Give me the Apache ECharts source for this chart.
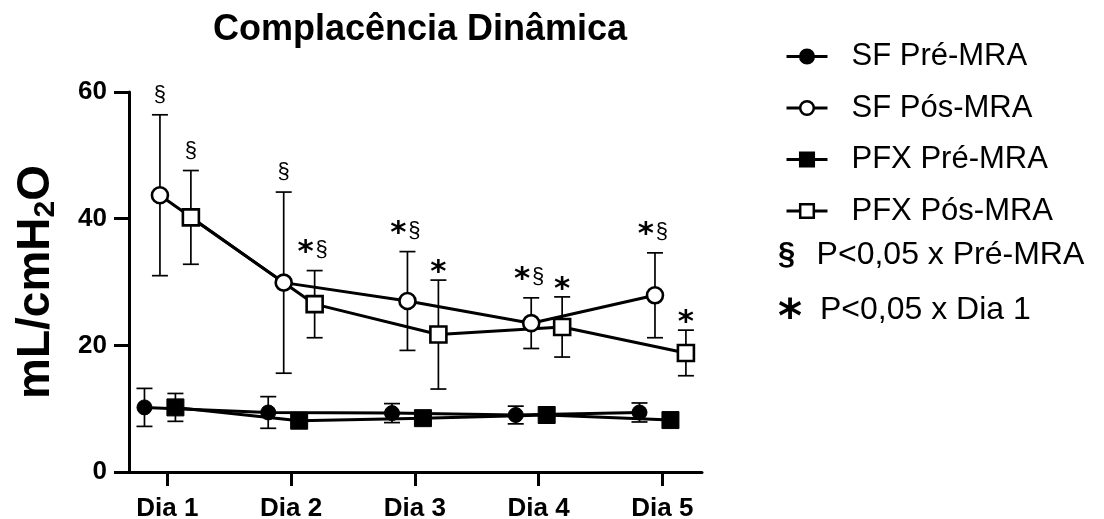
<!DOCTYPE html>
<html>
<head>
<meta charset="utf-8">
<script src="https://cdn.jsdelivr.net/npm/echarts@6/dist/echarts.min.js"></script>
<style>html,body{margin:0;padding:0;background:#fff;}#c{width:1104px;height:519px;}</style>
</head>
<body>
<div id="c"></div>
<script>
// ---- data ----
const categories = ['Dia 1', 'Dia 2', 'Dia 3', 'Dia 4', 'Dia 5'];
const yTicks = [0, 20, 40, 60];
const seriesNames = ['SF Pré-MRA', 'SF Pós-MRA', 'PFX Pré-MRA', 'PFX Pós-MRA'];
const sfPre = [10.2, 9.4, 9.3, 9.0, 9.4];
const sfPreErr = [3.0, 2.5, 1.5, 1.4, 1.5];
const sfPos = [43.7, 29.9, 27.0, 23.5, 27.9];
const sfPosErr = [12.7, 14.3, 7.8, 4.0, 6.7];
const pfxPre = [10.2, 8.1, 8.5, 9.0, 8.2];
const pfxPreErr = [2.2, 0.8, 0.8, 0.8, 0.8];
const pfxPos = [40.2, 26.5, 21.7, 22.9, 18.8];
const pfxPosErr = [7.4, 5.3, 8.6, 4.75, 3.6];
const sfPosSig = ['§', '§', '*§', '*§', '*§'];
const pfxPosSig = ['§', '*§', '*', '*', '*'];
const footnotes = [['§', 'P<0,05 x Pré-MRA'], ['*', 'P<0,05 x Dia 1']];

// ---- styling (positions of groups within a day) ----
const offsets = { sfPre: -0.185, sfPos: -0.06, pfxPre: 0.065, pfxPos: 0.19 };
const FONT = 'Liberation Sans, Arial, sans-serif';

function pts(vals, off) { return vals.map((v, i) => [i + 1 + off, v]); }
function errData(vals, errs, off) { return vals.map((v, i) => [i + 1 + off, v - errs[i], v + errs[i]]); }

function errSeries(vals, errs, off, sig) {
  return {
    type: 'custom', z: 1, silent: true,
    data: errData(vals, errs, off),
    renderItem: function (params, api) {
      const x = api.value(0), lo = api.value(1), hi = api.value(2);
      const pt = api.coord([x, hi]);
      const pb = api.coord([x, lo]);
      const cap = 8;
      const ls = { stroke: '#000', lineWidth: 1.7 };
      const children = [
        { type: 'line', shape: { x1: pt[0], y1: pt[1], x2: pb[0], y2: pb[1] }, style: ls },
        { type: 'line', shape: { x1: pt[0] - cap, y1: pt[1], x2: pt[0] + cap, y2: pt[1] }, style: ls },
        { type: 'line', shape: { x1: pb[0] - cap, y1: pb[1], x2: pb[0] + cap, y2: pb[1] }, style: ls }
      ];
      const s = sig ? sig[params.dataIndex] : '';
      const star = s.indexOf('*') >= 0, sec = s.indexOf('§') >= 0;
      const starStyle = (cx, cy) => ({ type: 'text', x: cx, y: cy + 6, style: { text: '*', font: 'bold 31px DejaVu Sans', fill: '#000', align: 'center', verticalAlign: 'middle' } });
      const secStyle = (cx, cy) => ({ type: 'text', x: cx, y: cy - 2, style: { text: '§', font: '22px ' + FONT, fill: '#000', align: 'center', verticalAlign: 'middle' } });
      if (star && sec) {
        children.push(starStyle(pt[0] - 9, pt[1] - 24));
        children.push(secStyle(pt[0] + 7, pt[1] - 19));
      } else if (star) {
        children.push(starStyle(pt[0], pt[1] - 13));
      } else if (sec) {
        children.push(secStyle(pt[0], pt[1] - 18));
      }
      return { type: 'group', children: children };
    }
  };
}

function lineSeries(name, vals, off, symbol, size, filled) {
  return {
    name: name, type: 'line', z: 3,
    data: pts(vals, off),
    symbol: symbol, symbolSize: size,
    showAllSymbol: true,
    lineStyle: { color: '#000', width: 3 },
    itemStyle: filled ? { color: '#000', borderColor: '#000', borderWidth: 1 } : { color: '#fff', borderColor: '#000', borderWidth: 2.6 },
    emphasis: { disabled: true }
  };
}

const chart = echarts.init(document.getElementById('c'), null, { renderer: 'canvas' });
chart.setOption({
  animation: false,
  backgroundColor: '#fff',
  title: {
    text: 'Complacência Dinâmica', left: 415, top: 7, textAlign: 'center',
    textStyle: { fontFamily: FONT, fontWeight: 'bold', fontSize: 36, color: '#000' }
  },
  grid: { left: 129, right: 402, top: 92, bottom: 47, containLabel: false, outerBoundsMode: 'none' },
  xAxis: {
    type: 'value', min: 0.69, max: 5.32,
    splitLine: { show: false },
    axisLine: { show: true, lineStyle: { color: '#000', width: 3 } },
    axisTick: { show: true, length: 14, lineStyle: { color: '#000', width: 3 }, customValues: categories.map((c, i) => i + 1) },
    axisLabel: {
      customValues: categories.map((c, i) => i + 1),
      formatter: v => categories[Math.round(v) - 1] || '',
      margin: 24, color: '#000', fontFamily: FONT, fontWeight: 'bold', fontSize: 26
    }
  },
  yAxis: {
    type: 'value', min: yTicks[0], max: yTicks[yTicks.length - 1], interval: 20,
    splitLine: { show: false },
    axisLine: { show: true, lineStyle: { color: '#000', width: 3 } },
    axisTick: { show: true, length: 15, lineStyle: { color: '#000', width: 3 } },
    axisLabel: { margin: 22, color: '#000', fontFamily: FONT, fontWeight: 'bold', fontSize: 26 },
    name: '{a|mL/cmH}{b|2}{a|O}',
    nameLocation: 'middle', nameGap: 68, nameRotate: 90,
    nameTextStyle: {
      rich: {
        a: { fontFamily: FONT, fontWeight: 'bold', fontSize: 46, color: '#000', lineHeight: 50 },
        b: { fontFamily: FONT, fontWeight: 'bold', fontSize: 30, color: '#000', lineHeight: 20, verticalAlign: 'bottom' }
      }
    }
  },
  legend: {
    orient: 'vertical', left: 785, top: 41, padding: 0,
    itemWidth: 41, itemHeight: 17, itemGap: 20.5,
    selectedMode: false,
    data: seriesNames,
    lineStyle: { width: 3, color: '#000' },
    itemStyle: { borderWidth: 2.5, borderColor: '#000' },
    formatter: n => '{g|}' + n,
    textStyle: {
      fontFamily: FONT, fontSize: 31, color: '#000', lineHeight: 30,
      rich: { g: { width: 19 } }
    }
  },
  graphic: footnotes.map((f, i) => ({
    type: 'group', left: 778, top: 239 + i * 55,
    children: [
      { type: 'text', x: 12, y: 15 + (f[0] === '*' ? 10 : 0), style: { text: f[0], font: f[0] === '*' ? 'bold 46px DejaVu Sans' : 'bold 31px ' + FONT, fill: '#000', align: 'center', verticalAlign: 'middle' } },
      { type: 'text', x: 42, y: 15, style: { text: f[1], font: '32px ' + FONT, fill: '#000', align: 'left', verticalAlign: 'middle' } }
    ]
  })),
  series: [
    errSeries(sfPre, sfPreErr, offsets.sfPre, null),
    errSeries(sfPos, sfPosErr, offsets.sfPos, sfPosSig),
    errSeries(pfxPre, pfxPreErr, offsets.pfxPre, null),
    errSeries(pfxPos, pfxPosErr, offsets.pfxPos, pfxPosSig),
    lineSeries(seriesNames[0], sfPre, offsets.sfPre, 'circle', 15, true),
    lineSeries(seriesNames[1], sfPos, offsets.sfPos, 'circle', 16, false),
    lineSeries(seriesNames[2], pfxPre, offsets.pfxPre, 'rect', 17, true),
    lineSeries(seriesNames[3], pfxPos, offsets.pfxPos, 'rect', 16, false)
  ]
});
</script>
</body>
</html>
